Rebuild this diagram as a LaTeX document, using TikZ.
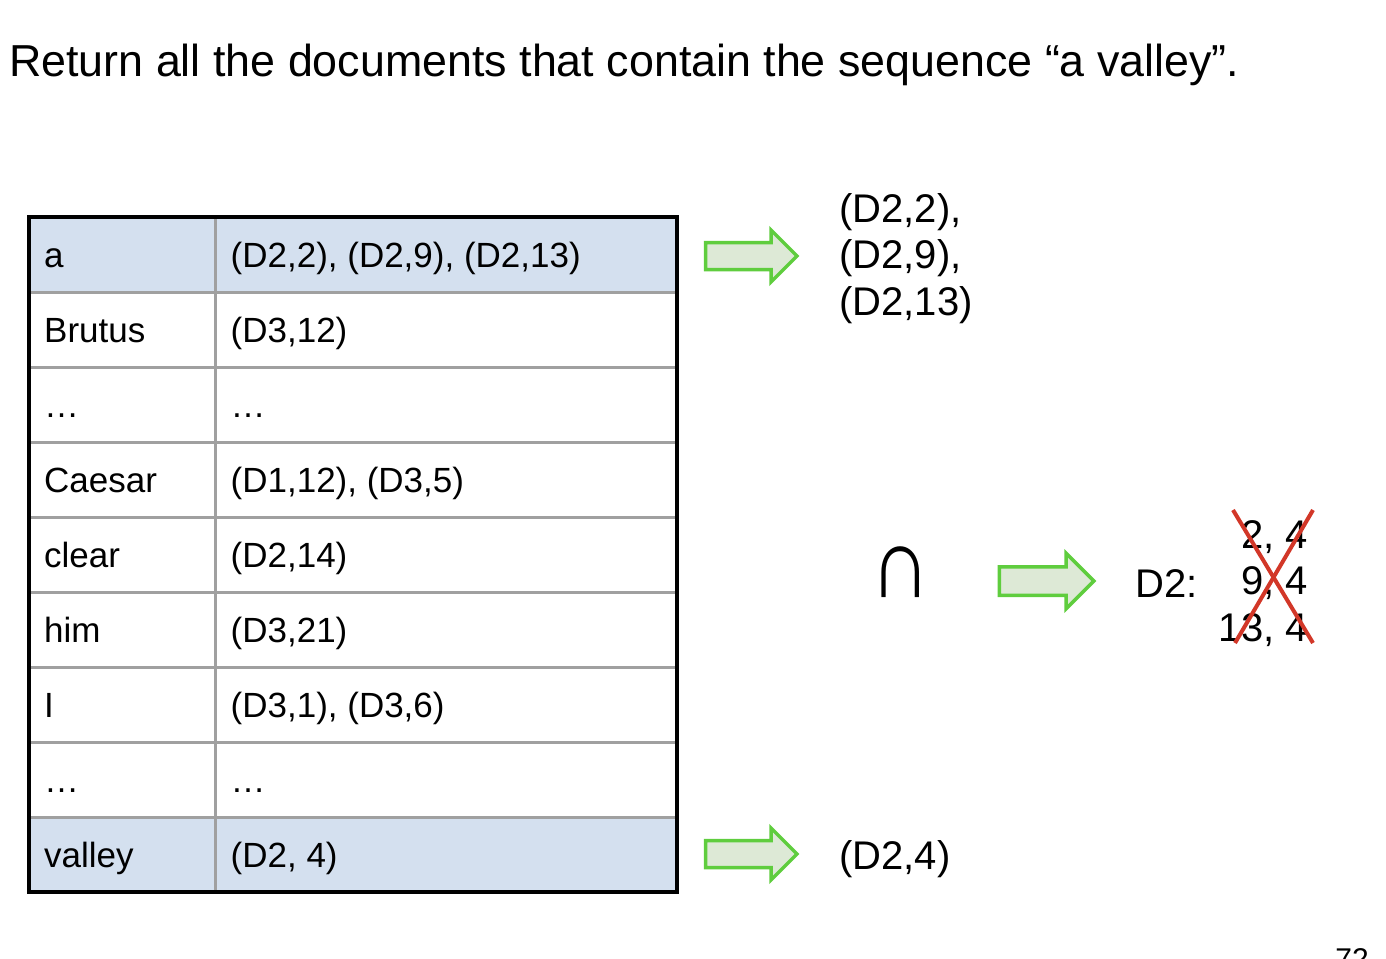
\documentclass[tikz,border=0pt]{standalone}
\usepackage{fontspec}
\setmainfont{Liberation Sans}
\usetikzlibrary{shapes.arrows}
\definecolor{arrowline}{RGB}{95,205,62}
\definecolor{arrowfill}{RGB}{221,233,214}
\definecolor{cellblue}{RGB}{212,224,239}
\definecolor{rulegray}{RGB}{160,160,160}
\definecolor{crossred}{RGB}{210,55,40}
\tikzset{
  cell/.style = {anchor=base west, inner sep=0pt, font=\fontsize{35}{41}\selectfont},
  bigtext/.style = {inner sep=0pt, font=\fontsize{40}{46.5}\selectfont},
  greenarrow/.style = {single arrow, draw=arrowline, fill=arrowfill, line width=3.5pt,
    inner xsep=0pt, inner ysep=11.75pt, minimum height=91.5pt, single arrow head extend=12.5pt},
  rule/.style = {draw=rulegray, line width=3pt},
  frame/.style = {draw=black, line width=3.5pt},
  cross/.style = {draw=crossred, line width=4pt}
}
\begin{document}
\begin{tikzpicture}[x=1pt, y=-1pt]
  \useasboundingbox (0,0) rectangle (1386,958);
  \node [anchor=base west, inner sep=0pt, font=\fontsize{44.8}{54}\selectfont] (title) at (9,77)
    {Return all the documents that contain the sequence “a valley”.};
  % table
  \fill [cellblue] (29,217) rectangle (677,292);
  \fill [cellblue] (29,817) rectangle (677,892);
  \draw [rule] (29,292) -- (677,292);
  \draw [rule] (29,367) -- (677,367);
  \draw [rule] (29,442) -- (677,442);
  \draw [rule] (29,517) -- (677,517);
  \draw [rule] (29,592) -- (677,592);
  \draw [rule] (29,667) -- (677,667);
  \draw [rule] (29,742) -- (677,742);
  \draw [rule] (29,817) -- (677,817);
  \draw [rule] (215,217) -- (215,892);
  \draw [frame] (29,217) rectangle (677,892);
  \node [cell] (w1) at (44,267) {a};
  \node [cell] (p1) at (230.5,267) {(D2,2), (D2,9), (D2,13)};
  \node [cell] (w2) at (44,342) {Brutus};
  \node [cell] (p2) at (230.5,342) {(D3,12)};
  \node [cell] (w3) at (44,417) {…};
  \node [cell] (p3) at (230.5,417) {…};
  \node [cell] (w4) at (44,492) {Caesar};
  \node [cell] (p4) at (230.5,492) {(D1,12), (D3,5)};
  \node [cell] (w5) at (44,567) {clear};
  \node [cell] (p5) at (230.5,567) {(D2,14)};
  \node [cell] (w6) at (44,642) {him};
  \node [cell] (p6) at (230.5,642) {(D3,21)};
  \node [cell] (w7) at (44,717) {I};
  \node [cell] (p7) at (230.5,717) {(D3,1), (D3,6)};
  \node [cell] (w8) at (44,792) {…};
  \node [cell] (p8) at (230.5,792) {…};
  \node [cell] (w9) at (44,867) {valley};
  \node [cell] (p9) at (230.5,867) {(D2, 4)};
  % arrows and results
  \node [greenarrow] (arrA) at (744.5,256) {};
  \node [greenarrow] (arrC) at (744.5,854) {};
  \node [greenarrow, minimum height=94.5pt, inner ysep=12.5pt, single arrow head extend=13.5pt] (arrB) at (1039.5,581) {};
  \node [bigtext, anchor=north west, align=left] (hitsA) at (839,193) {(D2,2),\\(D2,9),\\(D2,13)};
  \node [bigtext, anchor=base west] (hitsV) at (839,869) {(D2,4)};
  \node [anchor=base, inner sep=0pt, font=\fontsize{84}{90}\selectfont] (inter) at (901,597) {\scalebox{1}[1.2]{∩}};
  \node [bigtext, anchor=base west] (doc) at (1135,597) {D2:};
  \node [bigtext, anchor=north east, align=right] (pairs) at (1308,520) {2, 4\\9, 4\\13, 4};
  \draw [cross] (1233,510) -- (1313,643);
  \draw [cross] (1313,510) -- (1235,643);
  \node [anchor=base east, inner sep=0pt, font=\fontsize{30}{36}\selectfont] (pagenum) at (1369,969) {72};
\end{tikzpicture}
\end{document}
